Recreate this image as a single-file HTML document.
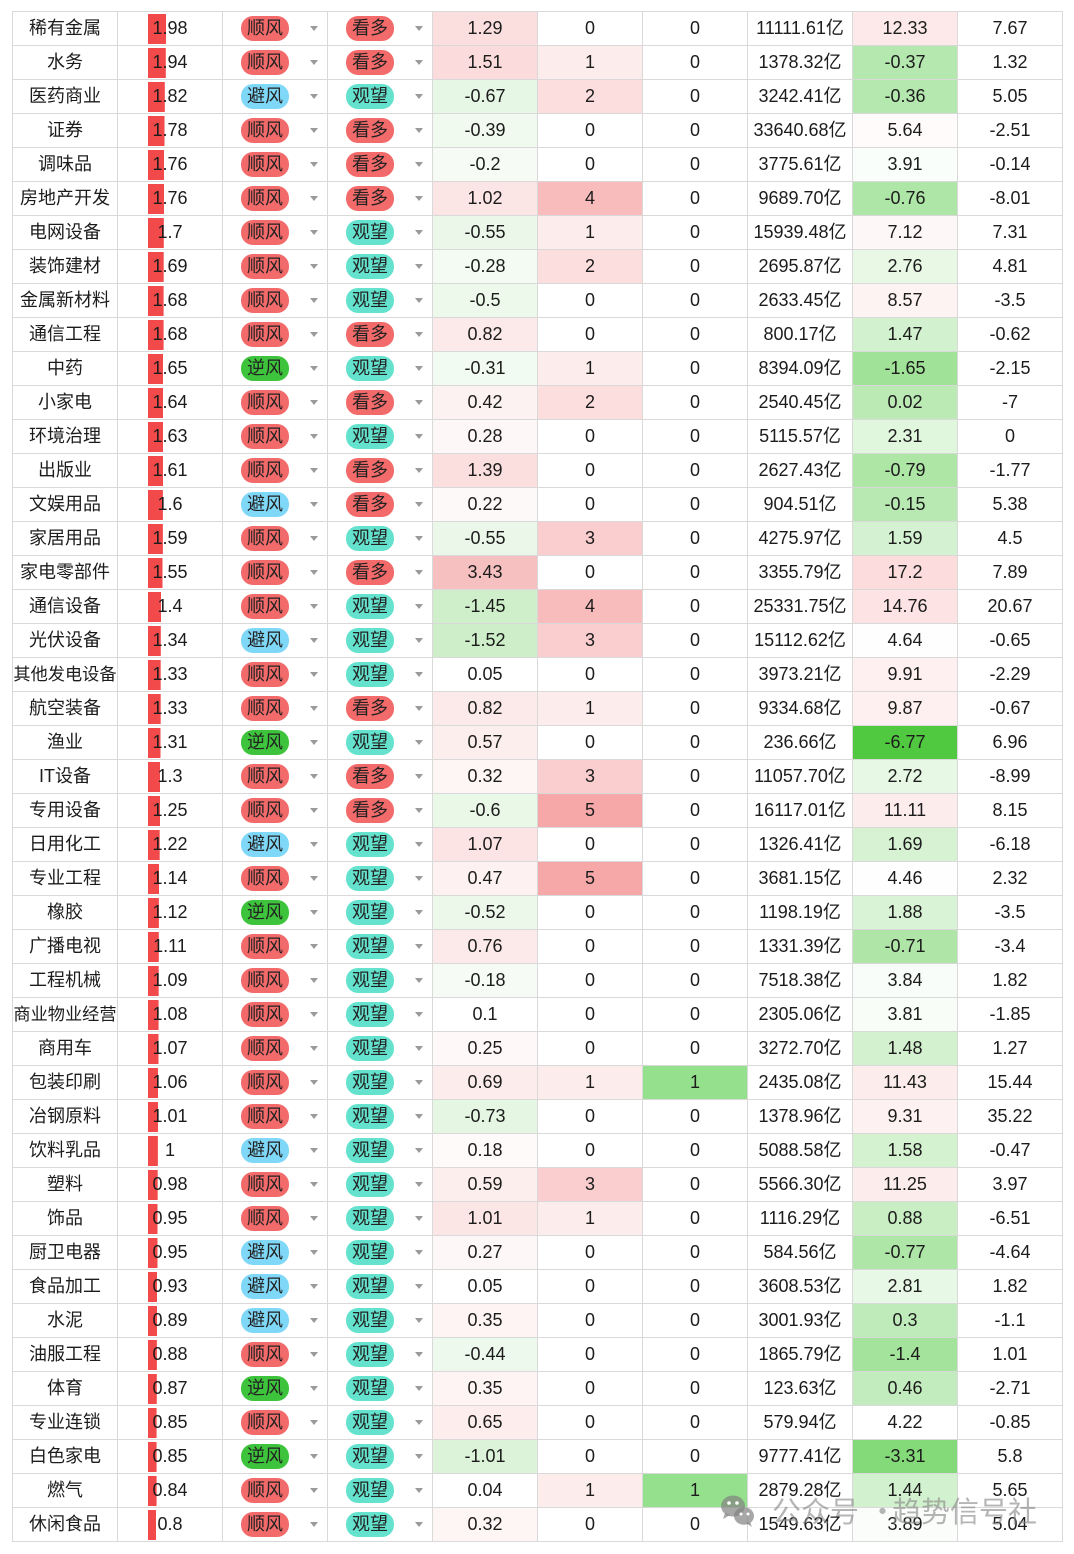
<!DOCTYPE html>
<html><head><meta charset="utf-8">
<style>
html,body{margin:0;padding:0;background:#fff;}
body{width:1074px;height:1554px;position:relative;overflow:hidden;font-family:"Liberation Sans","Noto Sans CJK SC",sans-serif;}
#g{position:absolute;left:12px;top:11px;display:grid;grid-template-columns:repeat(10,105px);grid-auto-rows:34px;border-left:1px solid #d9d9d9;border-top:1px solid #d9d9d9;}
#g>div{box-sizing:border-box;border-right:1px solid #d9d9d9;border-bottom:1px solid #d9d9d9;text-align:center;line-height:33px;font-size:18px;position:relative;white-space:nowrap;color:#1c1c1c;}
#g>div.s6{font-size:17.2px;}
#g>div.b{background:linear-gradient(#f24a4a,#f24a4a) no-repeat 30px 2px/var(--w) 30px;}
#g>div.t::after{content:"";position:absolute;left:87px;top:14px;border-left:4px solid transparent;border-right:4px solid transparent;border-top:5px solid #9a9a9a;}
.p{position:absolute;left:18px;top:4px;width:48px;height:25px;border-radius:12px;line-height:25px;font-size:18px;color:#222;}
.r{background:#f26a6a;}
.u{background:#80d8f8;}
.e{background:#3ec43c;}
.q{background:#64e2cd;}
#g>div.k1{background:rgb(253,236,236);}
#g>div.k2{background:rgb(252,222,222);}
#g>div.k3{background:rgb(250,206,206);}
#g>div.k4{background:rgb(248,188,188);}
#g>div.k5{background:rgb(246,168,168);}
#g>div.gg{background:rgb(148,224,140);}
#wm{position:absolute;left:0;top:0;width:1074px;height:1554px;pointer-events:none;}
.wt{position:absolute;top:1490px;font-size:29px;line-height:40px;color:rgba(135,135,135,0.62);white-space:nowrap;font-family:"Noto Sans CJK SC","Liberation Sans",sans-serif;}
</style></head><body>
<div id="g">
<div>稀有金属</div><div class="b" style="--w:18px">1.98</div><div class="t"><span class="p r">顺风</span></div><div class="t"><span class="p r">看多</span></div><div style="background:rgb(251,223,223)">1.29</div><div>0</div><div>0</div><div>11111.61亿</div><div style="background:rgb(253,233,233)">12.33</div><div>7.67</div>
<div>水务</div><div class="b" style="--w:17.8px">1.94</div><div class="t"><span class="p r">顺风</span></div><div class="t"><span class="p r">看多</span></div><div style="background:rgb(251,219,219)">1.51</div><div class="k1">1</div><div>0</div><div>1378.32亿</div><div style="background:rgb(180,232,174)">-0.37</div><div>1.32</div>
<div>医药商业</div><div class="b" style="--w:16.8px">1.82</div><div class="t"><span class="p u">避风</span></div><div class="t"><span class="p q">观望</span></div><div style="background:rgb(231,247,229)">-0.67</div><div class="k2">2</div><div>0</div><div>3242.41亿</div><div style="background:rgb(181,232,174)">-0.36</div><div>5.05</div>
<div>证券</div><div class="b" style="--w:16.5px">1.78</div><div class="t"><span class="p r">顺风</span></div><div class="t"><span class="p r">看多</span></div><div style="background:rgb(240,250,238)">-0.39</div><div>0</div><div>0</div><div>33640.68亿</div><div style="background:rgb(255,251,251)">5.64</div><div>-2.51</div>
<div>调味品</div><div class="b" style="--w:16.3px">1.76</div><div class="t"><span class="p r">顺风</span></div><div class="t"><span class="p r">看多</span></div><div style="background:rgb(246,252,245)">-0.2</div><div>0</div><div>0</div><div>3775.61亿</div><div style="background:rgb(250,254,250)">3.91</div><div>-0.14</div>
<div>房地产开发</div><div class="b" style="--w:16.3px">1.76</div><div class="t"><span class="p r">顺风</span></div><div class="t"><span class="p r">看多</span></div><div style="background:rgb(252,229,229)">1.02</div><div class="k4">4</div><div>0</div><div>9689.70亿</div><div style="background:rgb(174,230,167)">-0.76</div><div>-8.01</div>
<div>电网设备</div><div class="b" style="--w:15.8px">1.7</div><div class="t"><span class="p r">顺风</span></div><div class="t"><span class="p q">观望</span></div><div style="background:rgb(235,248,233)">-0.55</div><div class="k1">1</div><div>0</div><div>15939.48亿</div><div style="background:rgb(254,247,247)">7.12</div><div>7.31</div>
<div>装饰建材</div><div class="b" style="--w:15.7px">1.69</div><div class="t"><span class="p r">顺风</span></div><div class="t"><span class="p q">观望</span></div><div style="background:rgb(243,251,242)">-0.28</div><div class="k2">2</div><div>0</div><div>2695.87亿</div><div style="background:rgb(232,248,229)">2.76</div><div>4.81</div>
<div>金属新材料</div><div class="b" style="--w:15.6px">1.68</div><div class="t"><span class="p r">顺风</span></div><div class="t"><span class="p q">观望</span></div><div style="background:rgb(237,249,235)">-0.5</div><div>0</div><div>0</div><div>2633.45亿</div><div style="background:rgb(254,243,243)">8.57</div><div>-3.5</div>
<div>通信工程</div><div class="b" style="--w:15.6px">1.68</div><div class="t"><span class="p r">顺风</span></div><div class="t"><span class="p r">看多</span></div><div style="background:rgb(252,233,233)">0.82</div><div>0</div><div>0</div><div>800.17亿</div><div style="background:rgb(210,241,206)">1.47</div><div>-0.62</div>
<div>中药</div><div class="b" style="--w:15.4px">1.65</div><div class="t"><span class="p e">逆风</span></div><div class="t"><span class="p q">观望</span></div><div style="background:rgb(242,251,241)">-0.31</div><div class="k1">1</div><div>0</div><div>8394.09亿</div><div style="background:rgb(160,226,151)">-1.65</div><div>-2.15</div>
<div>小家电</div><div class="b" style="--w:15.3px">1.64</div><div class="t"><span class="p r">顺风</span></div><div class="t"><span class="p r">看多</span></div><div style="background:rgb(253,242,242)">0.42</div><div class="k2">2</div><div>0</div><div>2540.45亿</div><div style="background:rgb(187,234,181)">0.02</div><div>-7</div>
<div>环境治理</div><div class="b" style="--w:15.2px">1.63</div><div class="t"><span class="p r">顺风</span></div><div class="t"><span class="p q">观望</span></div><div style="background:rgb(254,247,247)">0.28</div><div>0</div><div>0</div><div>5115.57亿</div><div style="background:rgb(224,246,221)">2.31</div><div>0</div>
<div>出版业</div><div class="b" style="--w:15px">1.61</div><div class="t"><span class="p r">顺风</span></div><div class="t"><span class="p r">看多</span></div><div style="background:rgb(251,222,222)">1.39</div><div>0</div><div>0</div><div>2627.43亿</div><div style="background:rgb(174,230,166)">-0.79</div><div>-1.77</div>
<div>文娱用品</div><div class="b" style="--w:14.9px">1.6</div><div class="t"><span class="p u">避风</span></div><div class="t"><span class="p r">看多</span></div><div style="background:rgb(254,249,249)">0.22</div><div>0</div><div>0</div><div>904.51亿</div><div style="background:rgb(184,233,178)">-0.15</div><div>5.38</div>
<div>家居用品</div><div class="b" style="--w:14.9px">1.59</div><div class="t"><span class="p r">顺风</span></div><div class="t"><span class="p q">观望</span></div><div style="background:rgb(235,248,233)">-0.55</div><div class="k3">3</div><div>0</div><div>4275.97亿</div><div style="background:rgb(212,242,209)">1.59</div><div>4.5</div>
<div>家电零部件</div><div class="b" style="--w:14.5px">1.55</div><div class="t"><span class="p r">顺风</span></div><div class="t"><span class="p r">看多</span></div><div style="background:rgb(247,192,192)">3.43</div><div>0</div><div>0</div><div>3355.79亿</div><div style="background:rgb(252,220,220)">17.2</div><div>7.89</div>
<div>通信设备</div><div class="b" style="--w:13.3px">1.4</div><div class="t"><span class="p r">顺风</span></div><div class="t"><span class="p q">观望</span></div><div style="background:rgb(207,239,202)">-1.45</div><div class="k4">4</div><div>0</div><div>25331.75亿</div><div style="background:rgb(253,227,227)">14.76</div><div>20.67</div>
<div>光伏设备</div><div class="b" style="--w:12.8px">1.34</div><div class="t"><span class="p u">避风</span></div><div class="t"><span class="p q">观望</span></div><div style="background:rgb(205,238,200)">-1.52</div><div class="k3">3</div><div>0</div><div>15112.62亿</div><div style="background:rgb(255,254,254)">4.64</div><div>-0.65</div>
<div class="s6">其他发电设备</div><div class="b" style="--w:12.7px">1.33</div><div class="t"><span class="p r">顺风</span></div><div class="t"><span class="p q">观望</span></div><div>0.05</div><div>0</div><div>0</div><div>3973.21亿</div><div style="background:rgb(254,240,240)">9.91</div><div>-2.29</div>
<div>航空装备</div><div class="b" style="--w:12.7px">1.33</div><div class="t"><span class="p r">顺风</span></div><div class="t"><span class="p r">看多</span></div><div style="background:rgb(252,233,233)">0.82</div><div class="k1">1</div><div>0</div><div>9334.68亿</div><div style="background:rgb(254,240,240)">9.87</div><div>-0.67</div>
<div>渔业</div><div class="b" style="--w:12.5px">1.31</div><div class="t"><span class="p e">逆风</span></div><div class="t"><span class="p q">观望</span></div><div style="background:rgb(253,238,238)">0.57</div><div>0</div><div>0</div><div>236.66亿</div><div style="background:rgb(80,200,64)">-6.77</div><div>6.96</div>
<div>IT设备</div><div class="b" style="--w:12.4px">1.3</div><div class="t"><span class="p r">顺风</span></div><div class="t"><span class="p r">看多</span></div><div style="background:rgb(254,245,245)">0.32</div><div class="k3">3</div><div>0</div><div>11057.70亿</div><div style="background:rgb(231,248,229)">2.72</div><div>-8.99</div>
<div>专用设备</div><div class="b" style="--w:12px">1.25</div><div class="t"><span class="p r">顺风</span></div><div class="t"><span class="p r">看多</span></div><div style="background:rgb(233,248,231)">-0.6</div><div class="k5">5</div><div>0</div><div>16117.01亿</div><div style="background:rgb(253,236,236)">11.11</div><div>8.15</div>
<div>日用化工</div><div class="b" style="--w:11.7px">1.22</div><div class="t"><span class="p u">避风</span></div><div class="t"><span class="p q">观望</span></div><div style="background:rgb(252,228,228)">1.07</div><div>0</div><div>0</div><div>1326.41亿</div><div style="background:rgb(214,242,210)">1.69</div><div>-6.18</div>
<div>专业工程</div><div class="b" style="--w:11.1px">1.14</div><div class="t"><span class="p r">顺风</span></div><div class="t"><span class="p q">观望</span></div><div style="background:rgb(253,241,241)">0.47</div><div class="k5">5</div><div>0</div><div>3681.15亿</div><div style="background:rgb(255,254,254)">4.46</div><div>2.32</div>
<div>橡胶</div><div class="b" style="--w:10.9px">1.12</div><div class="t"><span class="p e">逆风</span></div><div class="t"><span class="p q">观望</span></div><div style="background:rgb(236,248,234)">-0.52</div><div>0</div><div>0</div><div>1198.19亿</div><div style="background:rgb(217,243,214)">1.88</div><div>-3.5</div>
<div>广播电视</div><div class="b" style="--w:10.8px">1.11</div><div class="t"><span class="p r">顺风</span></div><div class="t"><span class="p q">观望</span></div><div style="background:rgb(252,234,234)">0.76</div><div>0</div><div>0</div><div>1331.39亿</div><div style="background:rgb(175,230,168)">-0.71</div><div>-3.4</div>
<div>工程机械</div><div class="b" style="--w:10.7px">1.09</div><div class="t"><span class="p r">顺风</span></div><div class="t"><span class="p q">观望</span></div><div style="background:rgb(246,252,245)">-0.18</div><div>0</div><div>0</div><div>7518.38亿</div><div style="background:rgb(249,253,249)">3.84</div><div>1.82</div>
<div class="s6">商业物业经营</div><div class="b" style="--w:10.6px">1.08</div><div class="t"><span class="p r">顺风</span></div><div class="t"><span class="p q">观望</span></div><div>0.1</div><div>0</div><div>0</div><div>2305.06亿</div><div style="background:rgb(249,253,248)">3.81</div><div>-1.85</div>
<div>商用车</div><div class="b" style="--w:10.5px">1.07</div><div class="t"><span class="p r">顺风</span></div><div class="t"><span class="p q">观望</span></div><div style="background:rgb(254,248,248)">0.25</div><div>0</div><div>0</div><div>3272.70亿</div><div style="background:rgb(211,241,207)">1.48</div><div>1.27</div>
<div>包装印刷</div><div class="b" style="--w:10.4px">1.06</div><div class="t"><span class="p r">顺风</span></div><div class="t"><span class="p q">观望</span></div><div style="background:rgb(253,236,236)">0.69</div><div class="k1">1</div><div class="gg">1</div><div>2435.08亿</div><div style="background:rgb(253,236,236)">11.43</div><div>15.44</div>
<div>冶钢原料</div><div class="b" style="--w:10px">1.01</div><div class="t"><span class="p r">顺风</span></div><div class="t"><span class="p q">观望</span></div><div style="background:rgb(229,246,227)">-0.73</div><div>0</div><div>0</div><div>1378.96亿</div><div style="background:rgb(254,241,241)">9.31</div><div>35.22</div>
<div>饮料乳品</div><div class="b" style="--w:9.9px">1</div><div class="t"><span class="p u">避风</span></div><div class="t"><span class="p q">观望</span></div><div style="background:rgb(254,250,250)">0.18</div><div>0</div><div>0</div><div>5088.58亿</div><div style="background:rgb(212,242,208)">1.58</div><div>-0.47</div>
<div>塑料</div><div class="b" style="--w:9.7px">0.98</div><div class="t"><span class="p r">顺风</span></div><div class="t"><span class="p q">观望</span></div><div style="background:rgb(253,238,238)">0.59</div><div class="k3">3</div><div>0</div><div>5566.30亿</div><div style="background:rgb(253,236,236)">11.25</div><div>3.97</div>
<div>饰品</div><div class="b" style="--w:9.5px">0.95</div><div class="t"><span class="p r">顺风</span></div><div class="t"><span class="p q">观望</span></div><div style="background:rgb(252,229,229)">1.01</div><div class="k1">1</div><div>0</div><div>1116.29亿</div><div style="background:rgb(201,238,196)">0.88</div><div>-6.51</div>
<div>厨卫电器</div><div class="b" style="--w:9.5px">0.95</div><div class="t"><span class="p u">避风</span></div><div class="t"><span class="p q">观望</span></div><div style="background:rgb(254,247,247)">0.27</div><div>0</div><div>0</div><div>584.56亿</div><div style="background:rgb(174,230,167)">-0.77</div><div>-4.64</div>
<div>食品加工</div><div class="b" style="--w:9.3px">0.93</div><div class="t"><span class="p u">避风</span></div><div class="t"><span class="p q">观望</span></div><div>0.05</div><div>0</div><div>0</div><div>3608.53亿</div><div style="background:rgb(232,248,230)">2.81</div><div>1.82</div>
<div>水泥</div><div class="b" style="--w:9px">0.89</div><div class="t"><span class="p u">避风</span></div><div class="t"><span class="p q">观望</span></div><div style="background:rgb(254,244,244)">0.35</div><div>0</div><div>0</div><div>3001.93亿</div><div style="background:rgb(191,235,186)">0.3</div><div>-1.1</div>
<div>油服工程</div><div class="b" style="--w:8.9px">0.88</div><div class="t"><span class="p r">顺风</span></div><div class="t"><span class="p q">观望</span></div><div style="background:rgb(238,249,237)">-0.44</div><div>0</div><div>0</div><div>1865.79亿</div><div style="background:rgb(164,227,156)">-1.4</div><div>1.01</div>
<div>体育</div><div class="b" style="--w:8.8px">0.87</div><div class="t"><span class="p e">逆风</span></div><div class="t"><span class="p q">观望</span></div><div style="background:rgb(254,244,244)">0.35</div><div>0</div><div>0</div><div>123.63亿</div><div style="background:rgb(194,236,189)">0.46</div><div>-2.71</div>
<div>专业连锁</div><div class="b" style="--w:8.6px">0.85</div><div class="t"><span class="p r">顺风</span></div><div class="t"><span class="p q">观望</span></div><div style="background:rgb(253,237,237)">0.65</div><div>0</div><div>0</div><div>579.94亿</div><div>4.22</div><div>-0.85</div>
<div>白色家电</div><div class="b" style="--w:8.6px">0.85</div><div class="t"><span class="p e">逆风</span></div><div class="t"><span class="p q">观望</span></div><div style="background:rgb(221,243,217)">-1.01</div><div>0</div><div>0</div><div>9777.41亿</div><div style="background:rgb(132,217,121)">-3.31</div><div>5.8</div>
<div>燃气</div><div class="b" style="--w:8.6px">0.84</div><div class="t"><span class="p r">顺风</span></div><div class="t"><span class="p q">观望</span></div><div>0.04</div><div class="k1">1</div><div class="gg">1</div><div>2879.28亿</div><div style="background:rgb(210,241,206)">1.44</div><div>5.65</div>
<div>休闲食品</div><div class="b" style="--w:8.2px">0.8</div><div class="t"><span class="p r">顺风</span></div><div class="t"><span class="p q">观望</span></div><div style="background:rgb(254,245,245)">0.32</div><div>0</div><div>0</div><div>1549.63亿</div><div style="background:rgb(250,253,250)">3.89</div><div>5.04</div>
</div>
<div id="wm">
<svg style="position:absolute;left:718px;top:1492px" width="40" height="38" viewBox="0 0 40 38">
<g fill="rgba(130,130,130,0.7)">
<ellipse cx="15" cy="14" rx="12" ry="10.5"/>
<path d="M7 21 L5 27 L12 23 Z"/>
<ellipse cx="26" cy="24" rx="10" ry="8.8"/>
<path d="M32 30 L34 35 L28 31 Z"/>
</g>
<g fill="#fff">
<circle cx="11" cy="11" r="1.8"/><circle cx="19" cy="11" r="1.8"/>
<circle cx="23" cy="22" r="1.5"/><circle cx="30" cy="22" r="1.5"/>
</g>
</svg>
<div class="wt" style="left:772px">公众号</div>
<div class="wt" style="left:868px">·</div>
<div class="wt" style="left:892px">趋势信号社</div>
</div>
</body></html>
